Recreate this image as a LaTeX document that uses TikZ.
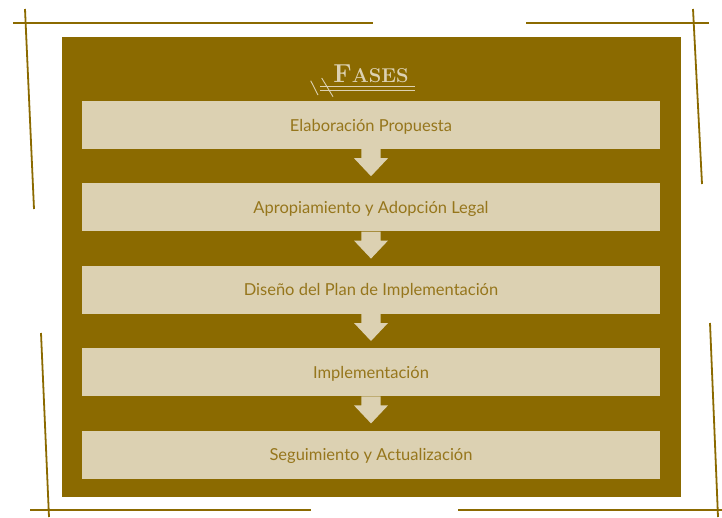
\documentclass[tikz,border=0pt]{standalone}
\usepackage{fontspec}
\newfontfamily\boxfont{Lato}
\usetikzlibrary{positioning,calc}
\definecolor{fasebrown}{RGB}{139,106,0}
\definecolor{fasebeige}{RGB}{220,209,178}
\definecolor{fasetext}{RGB}{150,118,28}

\begin{document}
\begin{tikzpicture}[x=1pt,y=-1pt,
  fase/.style={rectangle,fill=fasebeige,text=fasetext,minimum width=578pt,
    minimum height=48pt,inner sep=0pt,text height=12pt,text depth=0pt,
    font=\boxfont\fontsize{16.5}{18}\selectfont},
  deco/.style={draw=fasebrown,line width=1.8pt},
  flecha/.style={fill=fasebeige},
  node distance=34pt]
\useasboundingbox (0,0) rectangle (722,517);
\fill[fasebrown] (62,37) rectangle (681,497);
\draw [deco] (13,23) -- (373,23);
\draw [deco] (526,23) -- (709,23);
\draw [deco] (30,510) -- (311,510);
\draw [deco] (458,510) -- (722,510);
\draw [deco] (25,9) -- (34,209);
\draw [deco] (693,9) -- (702,184);
\draw [deco] (41,333) -- (49,517);
\draw [deco] (710,323) -- (718,517);
\node [text=fasebeige,anchor=base,inner sep=0pt] (t) at (371,82.5)
  {\bfseries\fontsize{26}{26}\selectfont F\fontsize{20}{20}\selectfont ASES};
\draw [fasebeige,line width=0.9pt] (320,86.7) -- (415,86.7);
\draw [fasebeige,line width=0.9pt] (320,90) -- (415,90);
\draw [fasebeige,line width=0.9pt] (310.7,80.7) -- (318,95);
\draw [fasebeige,line width=0.9pt] (321.7,78) -- (333,96.7);
\node [fase] (e1) at (371,125) {Elaboración Propuesta};
\node [fase,below=of e1] (e2) {Apropiamiento y Adopción Legal};
\node [fase,below=of e2] (e3) {Diseño del Plan de Implementación};
\node [fase,below=of e3] (e4) {Implementación};
\node [fase,below=of e4] (e5) {Seguimiento y Actualización};
\foreach \a/\b in {e1/e2,e2/e3,e3/e4,e4/e5}
  \fill [flecha] ($(\a.south)+(-9.7,0)$) -- ++(0,9) -- ++(-7.3,0)
    -- ($(\b.north)+(0,-7)$) -- ($(\a.south)+(17,9)$) -- ++(-7.3,0)
    -- ($(\a.south)+(9.7,0)$) -- cycle;
\end{tikzpicture}
\end{document}
